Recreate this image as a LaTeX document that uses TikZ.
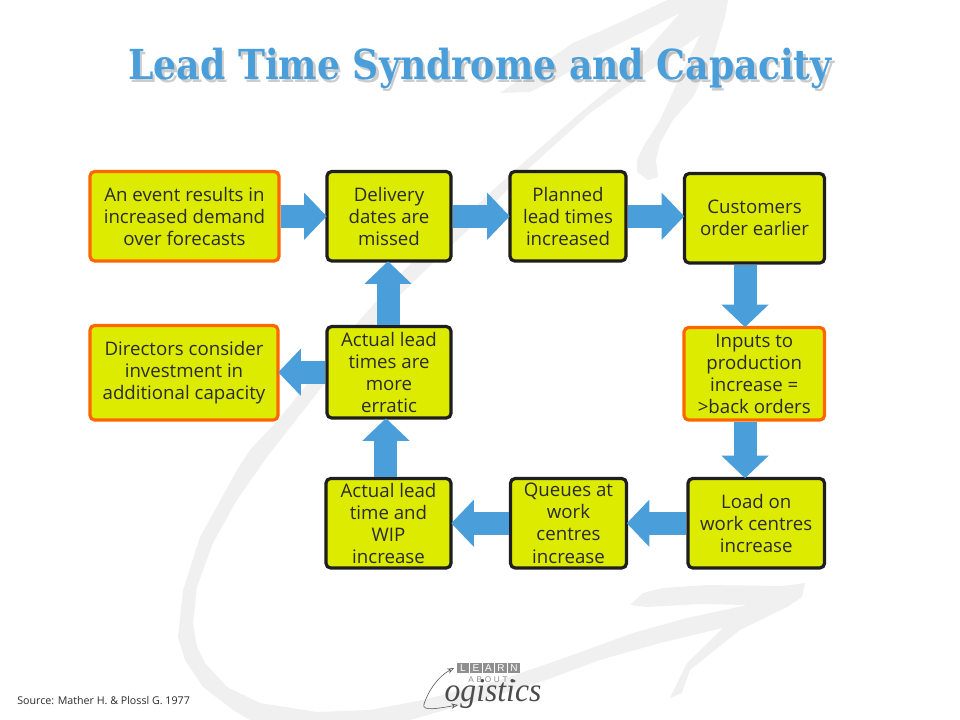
\documentclass[tikz,border=0pt]{standalone}
\usepackage{fontspec}
\usetikzlibrary{arrows.meta,calc}
\setmainfont{Open Sans}
\newfontfamily\titlefont{DejaVu Serif Bold}
\newfontfamily\logofont{Liberation Sans}
\newfontfamily\scriptlogo{Liberation Serif Italic}
\definecolor{swoosh}{HTML}{F0F0F0}
\definecolor{boxfill}{HTML}{DCEB00}
\definecolor{boxline}{HTML}{1E1E1E}
\definecolor{hilite}{HTML}{FF6600}
\definecolor{flow}{HTML}{4A9ED9}
\definecolor{ink}{HTML}{2B2B2B}
\definecolor{logogrey}{HTML}{8F8F8F}
\tikzset{
  box/.style={draw=boxline,fill=boxfill,line width=2.4pt,rounded corners=3.5pt,inner sep=0pt,
    align=center,text=ink,font=\fontsize{14}{16.6}\selectfont,minimum height=67.1pt},
  hibox/.style={box,draw=hilite},
  flowarrow/.style={draw=flow,line width=17.25pt,-{Triangle[length=17pt,width=34.5pt]},shorten >=-1pt},
  titletext/.style={font=\titlefont\fontsize{31}{36}\selectfont,inner sep=0pt,anchor=base},
  logobox/.style={fill=logogrey,text=white,minimum width=8.6pt,minimum height=7.8pt,inner sep=0pt,font=\logofont\fontsize{7.5}{8}\selectfont},
  logoline/.style={draw=black!65,line width=0.45pt,-{Stealth[length=5pt,width=4pt,open]}}
}
\newcommand{\TitleText}{\scalebox{0.877}[1]{Lead Time Syndrome and Capacity}}
\begin{document}
\begin{tikzpicture}[x=0.75pt,y=-0.75pt]
\useasboundingbox (0,0) rectangle (960,720);
% background swoosh
\fill[swoosh] (500,93) -- (523,77) -- (573,43) -- (603,30) -- (640,13) -- (667,0) -- (728,0)
  -- (725,17) -- (713,57) -- (693,97) -- (673,120) -- (660,143) -- (656,160) -- (658,177) -- (648,180) -- (637,172)
  -- (637,160) -- (643,147) -- (660,120) -- (677,83) -- (700,35)
  -- (590,113) -- (527,170) -- (470,228) -- (433,263) -- (400,295) -- (325,383) -- (267,457) -- (237,500)
  -- (213,543) -- (197,587) -- (193,623) -- (197,647) -- (205,663) -- (227,687) -- (260,703) -- (317,712) -- (370,710) -- (423,700)
  -- (500,680) -- (567,657) -- (633,633) -- (687,618) -- (747,605)
  -- (700,604) -- (647,607) -- (630,605) -- (643,593) -- (663,588) -- (707,585) -- (783,586) -- (805,583)
  -- (802,597) -- (787,607) -- (740,630) -- (690,670) -- (682,693) -- (670,698) -- (687,663) -- (723,628)
  -- (660,643) -- (600,660) -- (538,683) -- (480,700) -- (410,720) -- (250,720) -- (233,710) -- (203,687) -- (185,660)
  -- (178,637) -- (183,590) -- (200,537) -- (237,470) -- (250,450) -- (278,420) -- (357,323) -- (407,267) -- (453,228)
  -- (493,190) -- (523,163) -- (580,113) -- (620,80) -- (680,13)
  -- (607,50) -- (560,77) -- (530,92) -- cycle;
% title with soft shadow
\node[titletext,text=black,text opacity=0.2] (shadow) at (482.5,83) {\TitleText};
\node[titletext,text=flow] (title) at (480,80) {\TitleText};
% boxes
\node[hibox,minimum width=141.75pt] (b1) at (184.5,216.25) {An event results in\\increased demand\\over forecasts};
\node[box,minimum width=93pt] (b2) at (389,216.25) {Delivery\\dates are\\missed};
\node[box,minimum width=87pt] (b3) at (568,216.25) {Planned\\lead times\\increased};
\node[box,minimum width=105pt] (b4) at (754.5,218.25) {Customers\\order earlier};
\node[hibox,minimum width=105.4pt,minimum height=69.4pt] (b5) at (754.25,373.75) {Inputs to\\production\\increase =\\>back orders};
\node[box,minimum width=93pt,minimum height=68.6pt] (b6) at (389,372.25) {Actual lead\\times are\\more\\erratic};
\node[hibox,minimum width=141pt,minimum height=70.9pt] (b7) at (184,372.75) {Directors consider\\investment in\\additional capacity};
\node[box,minimum width=102.4pt] (b8) at (756.25,523.25) {Load on\\work centres\\increase};
\node[box,minimum width=87pt] (b9) at (568.5,523.25) {Queues at\\work\\centres\\increase};
\node[box,minimum width=93.75pt] (b10) at (388.5,523.25) {Actual lead\\time and\\WIP\\increase};
% connectors
\draw[flowarrow] (b1.east) -- (b2.west);
\draw[flowarrow] (b2.east) -- (b3.west);
\draw[flowarrow] (b3.east) -- (b3.east -| b4.west);
\draw[flowarrow] ([xshift=-7.1pt]b4.south) -- ([xshift=-7.1pt]b4.south |- b5.north);
\draw[flowarrow] ([xshift=-6.9pt]b5.south) -- ([xshift=-6.9pt]b5.south |- b8.north);
\draw[flowarrow] (b8.west) -- (b9.east);
\draw[flowarrow] (b9.west) -- (b10.east);
\draw[flowarrow] ([xshift=-1.9pt]b10.north) -- ([xshift=-1.9pt]b10.north |- b6.south);
\draw[flowarrow] ([xshift=-0.75pt]b6.north) -- ([xshift=-0.75pt]b6.north |- b2.south);
\draw[flowarrow] (b6.west) -- (b6.west -| b7.east);
% source
\node[anchor=base west,inner sep=0pt,text=ink,font=\fontsize{8}{10}\selectfont] (source) at (17,704) {Source: Mather H. \& Plossl G. 1977};
% logo
\node[logobox] (l1) at (463,668) {L};
\node[logobox] (l2) at (476,668) {E};
\node[logobox] (l3) at (488.5,668) {A};
\node[logobox] (l4) at (501,668) {R};
\node[logobox] (l5) at (514,668) {N};
\node[inner sep=0pt,text=logogrey,font=\logofont\fontsize{6.2}{7}\selectfont] (about) at (488,680) {A\,\,B\,\,O\,\,U\,\,T};
\node[circle,fill=black!65,inner sep=0pt,minimum size=2.4pt] (dot) at (514,681) {};
\node[anchor=base,inner sep=0pt,text=black!70,font=\scriptlogo\fontsize{25}{27}\selectfont] (ogistics) at (493,701) {\scalebox{0.95}[1]{ogistics}};
\coordinate (lstart) at (424,704);
\draw[logoline] (lstart) .. controls (428,692) and (437,677) .. (454,668);
\draw[logoline] (lstart) .. controls (421,712) and (440,708) .. (458,705);
\end{tikzpicture}
\end{document}
